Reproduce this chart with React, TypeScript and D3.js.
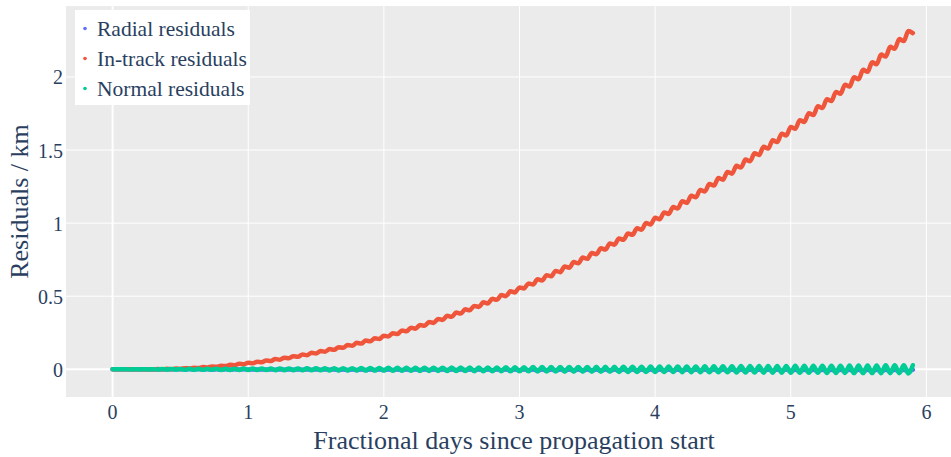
import React from "react";
import * as d3 from "d3";

// Sampling step: one value per half orbit (~15 orbits/day)
const HALF_ORBIT_DAYS = 1 / 30;

const seriesNames = ["Radial residuals", "In-track residuals", "Normal residuals"];
const seriesColors = ["#636efa", "#EF553B", "#00cc96"];

const radial = [
  0, 0, 0, 0, 0, 0, 0, 0, -0.001, 0,
  -0.001, 0, -0.001, 0, -0.001, 0, -0.001, 0, -0.001, 0,
  -0.001, 0, -0.002, 0, -0.002, 0, -0.002, 0, -0.002, 0,
  -0.002, -0.001, -0.002, -0.001, -0.002, -0.001, -0.003, -0.001, -0.003, -0.001,
  -0.003, -0.001, -0.003, -0.001, -0.003, -0.001, -0.003, -0.001, -0.003, -0.001,
  -0.004, -0.001, -0.004, -0.001, -0.004, -0.001, -0.004, -0.001, -0.004, -0.001,
  -0.004, -0.001, -0.004, -0.001, -0.004, -0.001, -0.005, -0.001, -0.005, -0.001,
  -0.005, -0.001, -0.005, -0.001, -0.005, -0.001, -0.005, -0.001, -0.005, -0.001,
  -0.006, -0.001, -0.006, -0.001, -0.006, -0.001, -0.006, -0.001, -0.006, -0.001,
  -0.006, -0.002, -0.006, -0.002, -0.007, -0.002, -0.007, -0.002, -0.007, -0.002,
  -0.007, -0.002, -0.007, -0.002, -0.007, -0.002, -0.007, -0.002, -0.008, -0.002,
  -0.008, -0.002, -0.008, -0.002, -0.008, -0.002, -0.008, -0.002, -0.008, -0.002,
  -0.008, -0.002, -0.009, -0.002, -0.009, -0.002, -0.009, -0.002, -0.009, -0.002,
  -0.009, -0.002, -0.009, -0.002, -0.009, -0.002, -0.01, -0.002, -0.01, -0.002,
  -0.01, -0.002, -0.01, -0.002, -0.01, -0.002, -0.01, -0.002, -0.01, -0.002,
  -0.011, -0.003, -0.011, -0.003, -0.011, -0.003, -0.011, -0.003, -0.011, -0.003,
  -0.011, -0.003, -0.011, -0.003, -0.011, -0.003, -0.012, -0.003, -0.012, -0.003,
  -0.012, -0.003, -0.012, -0.003, -0.012, -0.003, -0.012, -0.003,
];

const inTrack = [
  0, -0.0001, 0.0002, -0.0004, 0.0005, -0.0006, 0.0007, -0.0008, 0.001, -0.0009,
  0.0017, -0.0003, 0.003, 0.0009, 0.005, 0.0028, 0.0077, 0.0053, 0.011, 0.0085,
  0.015, 0.0123, 0.0196, 0.0167, 0.0248, 0.0218, 0.0307, 0.0276, 0.0372, 0.034,
  0.0444, 0.041, 0.0522, 0.0487, 0.0607, 0.057, 0.0698, 0.066, 0.0796, 0.0756,
  0.09, 0.0859, 0.1011, 0.0968, 0.1128, 0.1084, 0.1251, 0.1206, 0.1381, 0.1334,
  0.1517, 0.1469, 0.166, 0.1611, 0.181, 0.1758, 0.1966, 0.1913, 0.2128, 0.2074,
  0.2297, 0.2241, 0.2472, 0.2415, 0.2653, 0.2595, 0.2842, 0.2782, 0.3036, 0.2975,
  0.3237, 0.3174, 0.3445, 0.3381, 0.3659, 0.3593, 0.3879, 0.3812, 0.4106, 0.4038,
  0.4339, 0.4269, 0.4579, 0.4508, 0.4826, 0.4753, 0.5078, 0.5004, 0.5337, 0.5262,
  0.5603, 0.5526, 0.5875, 0.5797, 0.6154, 0.6074, 0.6439, 0.6358, 0.673, 0.6648,
  0.7028, 0.6944, 0.7333, 0.7247, 0.7644, 0.7557, 0.7961, 0.7873, 0.8285, 0.8195,
  0.8615, 0.8524, 0.8952, 0.8859, 0.9295, 0.9201, 0.9645, 0.9549, 1.0001, 0.9904,
  1.0364, 1.0265, 1.0733, 1.0633, 1.1109, 1.1007, 1.1491, 1.1388, 1.1879, 1.1775,
  1.2274, 1.2168, 1.2675, 1.2568, 1.3083, 1.2974, 1.3497, 1.3387, 1.3918, 1.3806,
  1.4345, 1.4232, 1.4779, 1.4665, 1.5219, 1.5103, 1.5666, 1.5548, 1.6119, 1.6,
  1.6578, 1.6458, 1.7044, 1.6923, 1.7517, 1.7394, 1.7996, 1.7871, 1.8481, 1.8355,
  1.8973, 1.8846, 1.9471, 1.9343, 1.9976, 1.9846, 2.0487, 2.0356, 2.1005, 2.0872,
  2.1529, 2.1395, 2.206, 2.1924, 2.2597, 2.246, 2.3141, 2.3002,
];

const normal = [
  0, 0, 0, 0, -0.001, 0.001, -0.001, 0.001, -0.001, 0.001,
  -0.002, 0.002, -0.002, 0.002, -0.002, 0.002, -0.003, 0.003, -0.003, 0.003,
  -0.003, 0.003, -0.003, 0.004, -0.004, 0.004, -0.004, 0.004, -0.004, 0.005,
  -0.005, 0.005, -0.005, 0.005, -0.005, 0.005, -0.006, 0.006, -0.006, 0.006,
  -0.006, 0.006, -0.007, 0.007, -0.007, 0.007, -0.007, 0.007, -0.008, 0.008,
  -0.008, 0.008, -0.008, 0.008, -0.008, 0.009, -0.009, 0.009, -0.009, 0.009,
  -0.009, 0.01, -0.01, 0.01, -0.01, 0.01, -0.01, 0.01, -0.011, 0.011,
  -0.011, 0.011, -0.011, 0.011, -0.012, 0.012, -0.012, 0.012, -0.012, 0.012,
  -0.013, 0.013, -0.013, 0.013, -0.013, 0.013, -0.013, 0.014, -0.014, 0.014,
  -0.014, 0.014, -0.014, 0.015, -0.015, 0.015, -0.015, 0.015, -0.015, 0.016,
  -0.016, 0.016, -0.016, 0.016, -0.016, 0.016, -0.017, 0.017, -0.017, 0.017,
  -0.017, 0.017, -0.018, 0.018, -0.018, 0.018, -0.018, 0.018, -0.018, 0.019,
  -0.019, 0.019, -0.019, 0.019, -0.019, 0.02, -0.02, 0.02, -0.02, 0.02,
  -0.02, 0.021, -0.021, 0.021, -0.021, 0.021, -0.021, 0.021, -0.022, 0.022,
  -0.022, 0.022, -0.022, 0.022, -0.023, 0.023, -0.023, 0.023, -0.023, 0.023,
  -0.024, 0.024, -0.024, 0.024, -0.024, 0.024, -0.024, 0.025, -0.025, 0.025,
  -0.025, 0.025, -0.025, 0.026, -0.026, 0.026, -0.026, 0.026, -0.026, 0.026,
  -0.027, 0.027, -0.027, 0.027, -0.027, 0.027, -0.028, 0.028,
];

const xTicks = [0, 1, 2, 3, 4, 5, 6];
const yTicks = [0, 0.5, 1, 1.5, 2];
const xTitle = "Fractional days since propagation start";
const yTitle = "Residuals / km";

const W = 951;
const H = 457;
const PLOT = { left: 66, right: 951, top: 6, bottom: 397 };
const FONT = "'Liberation Serif', 'Times New Roman', serif";
const TEXT = "#2a3f5f";

export default function App() {
  const x = d3.scaleLinear().domain([-0.3436, 6.1815]).range([PLOT.left, PLOT.right]);
  const y = d3.scaleLinear().domain([-0.1895, 2.4855]).range([PLOT.bottom, PLOT.top]);

  const allSeries = [radial, inTrack, normal];
  const line = d3
    .line<[number, number]>()
    .x((d) => x(d[0]))
    .y((d) => y(d[1]))
    .curve(d3.curveMonotoneX);

  const paths = allSeries.map((vals) =>
    line(vals.map((v, i) => [i * HALF_ORBIT_DAYS, v] as [number, number]))
  );

  return (
    <svg
      width={W}
      height={H}
      style={{ position: "absolute", left: 0, top: 0, background: "#fff" }}
      fontFamily={FONT}
    >
      <defs>
        <clipPath id="plotClip">
          <rect
            x={PLOT.left}
            y={PLOT.top}
            width={PLOT.right - PLOT.left}
            height={PLOT.bottom - PLOT.top}
          />
        </clipPath>
      </defs>
      <rect
        x={PLOT.left}
        y={PLOT.top}
        width={PLOT.right - PLOT.left}
        height={PLOT.bottom - PLOT.top}
        fill="#ebebeb"
      />
      {xTicks.map((t) => (
        <line
          key={"gx" + t}
          x1={x(t)}
          x2={x(t)}
          y1={PLOT.top}
          y2={PLOT.bottom}
          stroke="#fff"
          strokeWidth={t === 0 ? 2 : 1}
        />
      ))}
      {yTicks.map((t) => (
        <line
          key={"gy" + t}
          x1={PLOT.left}
          x2={PLOT.right}
          y1={y(t)}
          y2={y(t)}
          stroke="#fff"
          strokeWidth={t === 0 ? 2 : 1}
        />
      ))}
      <g clipPath="url(#plotClip)">
        {paths.map((p, i) => (
          <path
            key={i}
            d={p || ""}
            fill="none"
            stroke={seriesColors[i]}
            strokeWidth={4.5}
            strokeLinecap="round"
            strokeLinejoin="round"
          />
        ))}
      </g>
      {xTicks.map((t) => (
        <text
          key={"tx" + t}
          x={x(t)}
          y={418.5}
          textAnchor="middle"
          fontSize={20}
          fill={TEXT}
        >
          {t}
        </text>
      ))}
      {yTicks.map((t) => (
        <text
          key={"ty" + t}
          x={63}
          y={y(t) + 7.5}
          textAnchor="end"
          fontSize={20}
          fill={TEXT}
        >
          {String(t)}
        </text>
      ))}
      <text x={514} y={449} textAnchor="middle" fontSize={26} fill={TEXT}>
        {xTitle}
      </text>
      <text
        transform={`translate(28, ${(PLOT.top + PLOT.bottom) / 2}) rotate(-90)`}
        textAnchor="middle"
        fontSize={26}
        fill={TEXT}
      >
        {yTitle}
      </text>
      <g>
        <rect x={75} y={10} width={175} height={95} fill="#fff" />
        {seriesNames.map((name, i) => (
          <g key={name} transform={`translate(0, ${i * 30})`}>
            <circle cx={85} cy={28.5} r={1.8} fill={seriesColors[i]} />
            <text x={97} y={36} fontSize={21.5} fill={TEXT}>
              {name}
            </text>
          </g>
        ))}
      </g>
    </svg>
  );
}
